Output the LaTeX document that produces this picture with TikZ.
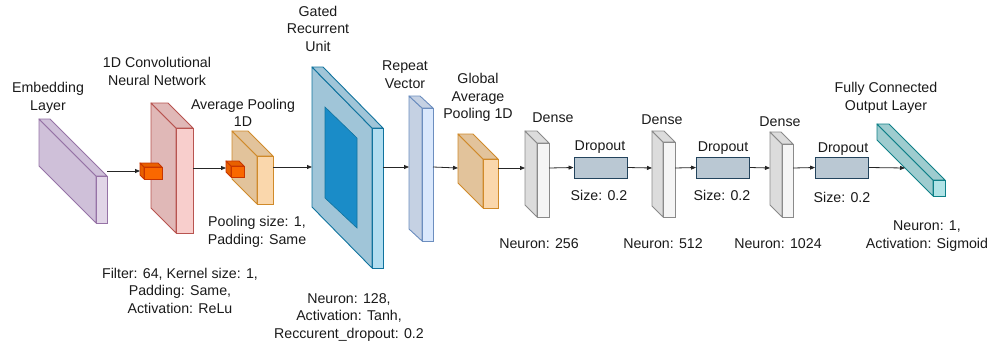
\documentclass[tikz,border=0pt]{standalone}
\usepackage{fontspec}
\setmainfont{Liberation Sans}
\usetikzlibrary{arrows.meta}
\definecolor{txt}{HTML}{1A1A1A}
\tikzset{
  lbl/.style={align=center,inner sep=0pt,text=txt,font=\fontsize{14.2}{17.5}\selectfont},
  arr/.style={draw=black!85,line width=0.8pt,-{Triangle[length=5pt,width=4pt]}},
  purp/.style={draw=#1},
}
% name, x0, y0, w, h, dx, dy, colour prefix, arrow y
\newcommand\boxlayer[9]{%
  \filldraw[fill=#8side,draw=#8str,line width=0.9pt,line join=round]
    (#2,#3) -- ({#2+#6},{#3+#7}) -- ({#2+#6},{#3+#7+#5}) -- (#2,{#3+#5}) -- cycle;
  \filldraw[fill=#8side,draw=#8str,line width=0.9pt,line join=round]
    (#2,#3) -- ({#2+#4},#3) -- ({#2+#4+#6},{#3+#7}) -- ({#2+#6},{#3+#7}) -- cycle;
  \node[fill=#8front,draw=#8str,line width=0.9pt,inner sep=0pt,outer sep=0pt,
        minimum width=#4pt,minimum height=#5pt,anchor=north west]
        (#1) at ({#2+#6},{#3+#7}) {};
  \coordinate (#1-in) at (#2,#9);
  \coordinate (#1-out) at ({#2+#6+#4},#9);
}
\definecolor{purfront}{HTML}{E1D5E7}\definecolor{purside}{HTML}{CFC0D9}\definecolor{purstr}{HTML}{9673A6}
\definecolor{redfront}{HTML}{F8CECC}\definecolor{redside}{HTML}{E0B8B7}\definecolor{redstr}{HTML}{B85450}
\definecolor{orgfront}{HTML}{FAD7AC}\definecolor{orgside}{HTML}{E2C39B}\definecolor{orgstr}{HTML}{D08A2A}
\definecolor{kerfront}{HTML}{FA6800}\definecolor{kerside}{HTML}{E86000}\definecolor{kerstr}{HTML}{C73500}
\definecolor{grufront}{HTML}{B1DDF0}\definecolor{gruside}{HTML}{A0C5D8}\definecolor{grustr}{HTML}{10739E}
\definecolor{grucore}{HTML}{1A8CC8}
\definecolor{rvfront}{HTML}{DAE8FC}\definecolor{rvside}{HTML}{C5D1E3}\definecolor{rvstr}{HTML}{6C8EBF}
\definecolor{dnsfront}{HTML}{F5F5F5}\definecolor{dnsside}{HTML}{DCDCDC}\definecolor{dnsstr}{HTML}{8A8A8A}
\definecolor{outfront}{HTML}{B0E3E6}\definecolor{outside}{HTML}{9ECCCF}\definecolor{outstr}{HTML}{0E8088}
\definecolor{dropfill}{HTML}{BAC8D3}\definecolor{dropstr}{HTML}{23445D}
\begin{document}
\begin{tikzpicture}[x=1pt,y=-1pt]
\useasboundingbox (0,0) rectangle (1006,349);
% layers
\boxlayer{emb}{39}{119}{11}{47}{57}{57}{pur}{171}
\boxlayer{conv}{151}{103}{17}{105}{25}{25}{red}{168}
\boxlayer{k1}{140}{163}{18}{12}{4}{4}{ker}{171}
\boxlayer{pool}{232}{131}{16}{48}{25}{25}{org}{167}
\boxlayer{k2}{226}{161}{13}{11}{5}{5}{ker}{168}
\boxlayer{gru}{312}{67}{11}{140}{60}{61}{gru}{167}
\filldraw[fill=grucore,draw=grustr,line width=0.6pt] (325,107) -- (357,138) -- (357,228) -- (325,198) -- cycle;
\boxlayer{rv}{409}{96}{11}{133}{13}{12}{rv}{167}
\boxlayer{gap}{458}{134}{15}{49}{25}{25}{org}{168}
\boxlayer{d1}{525}{131}{12}{74}{12}{12}{dns}{168}
\boxlayer{d2}{652}{131}{12}{75}{11}{11}{dns}{168}
\boxlayer{d3}{770}{132}{11}{73}{12}{12}{dns}{168}
\boxlayer{out}{877}{124}{12}{16}{56}{56}{out}{168}
\coordinate (out-in) at (905,168);
% dropouts
\tikzset{drop/.style={fill=dropfill,draw=dropstr,line width=0.9pt,inner sep=0pt,minimum width=53pt,minimum height=21pt}}
\node[drop] (dr1) at (600.5,167.5) {};
\node[drop] (dr2) at (723,167.5) {};
\node[drop] (dr3) at (842,167.5) {};
% connectors
\draw[arr] (emb-out) -- (k1-in);
\draw[arr] (conv-out) -- (k2-in);
\draw[arr] (pool-out) -- (gru-in);
\draw[arr] (gru-out) -- (rv-in);
\draw[arr] (rv-out) -- (gap-in);
\draw[arr] (gap-out) -- (d1-in);
\draw[arr] (d1-out) -- (dr1.west);
\draw[arr] (dr1.east) -- (d2-in);
\draw[arr] (d2-out) -- (dr2.west);
\draw[arr] (dr2.east) -- (d3-in);
\draw[arr] (d3-out) -- (dr3.west);
\draw[arr] (dr3.east) -- (out-in);
% labels
\node[lbl] (t-emb) at (48,98) {Embedding\\Layer};
\node[lbl] (t-conv) at (157,71.5) {1D Convolutional\\Neural Network};
\node[lbl] (t-pool) at (243,113) {Average Pooling\\1D};
\node[lbl] (t-gru) at (318,28.5) {Gated\\Recurrent\\Unit};
\node[lbl] (t-rv) at (405,74.5) {Repeat\\Vector};
\node[lbl] (t-gap) at (478,97.5) {Global\\Average\\Pooling 1D};
\node[lbl] (t-d1) at (553,118) {Dense};
\node[lbl] (t-d2) at (662,120) {Dense};
\node[lbl] (t-d3) at (780,122) {Dense};
\node[lbl] (t-dr1) at (600,147) {Dropout};
\node[lbl] (t-dr2) at (723,148) {Dropout};
\node[lbl] (t-dr3) at (843,149) {Dropout};
\node[lbl] (s-dr1) at (599,195) {Size: 0.2};
\node[lbl] (s-dr2) at (722,195) {Size: 0.2};
\node[lbl] (s-dr3) at (842,197) {Size: 0.2};
\node[lbl] (t-out) at (886,98) {Fully Connected\\Output Layer};
\node[lbl] (p-pool) at (257,232) {Pooling size: 1,\\Padding: Same};
\node[lbl] (p-conv) at (180,290.5) {Filter: 64, Kernel size: 1,\\Padding: Same,\\Activation: ReLu};
\node[lbl] (p-gru) at (349,317.5) {Neuron: 128,\\Activation: Tanh,\\Reccurent\_dropout: 0.2};
\node[lbl] (p-d1) at (539,244) {Neuron: 256};
\node[lbl] (p-d2) at (663,244) {Neuron: 512};
\node[lbl] (p-d3) at (778,244) {Neuron: 1024};
\node[lbl] (p-out) at (927,236) {Neuron: 1,\\Activation: Sigmoid};
\end{tikzpicture}
\end{document}
